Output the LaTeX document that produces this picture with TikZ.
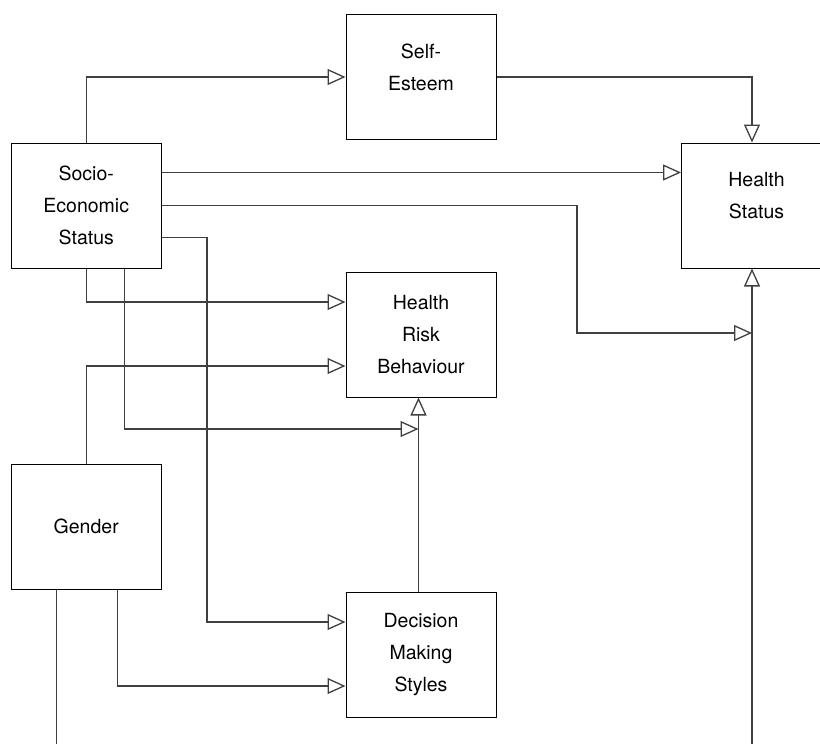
\documentclass[tikz,border=0pt]{standalone}
\usepackage{fontspec}
\setmainfont{TeX Gyre Heros}
\usetikzlibrary{arrows.meta}

\tikzset{
  box/.style={draw, line width=1pt, minimum width=150pt, minimum height=125pt,
    inner sep=0pt, align=center, font=\fontsize{19.5}{32}\selectfont},
  boxtext/.style={align=center, font=\fontsize{19.5}{32}\selectfont},
  flow/.style={draw=black!75, line width=1.3pt,
    -{Triangle[open, length=18pt, width=16pt]}}
}

\begin{document}
\begin{tikzpicture}[x=1pt, y=-1pt]

            \useasboundingbox (0,0) rectangle (820,744);
            \clip (0,0) rectangle (820,744);

            \node[box] (ses) at (86.25,205.5) {Socio-\\Economic\\Status};
            \node[box, label={[boxtext, yshift=9.5pt]center:Self-\\Esteem}] (se) at (421,77) {};
            \node[box, label={[boxtext, yshift=9.5pt]center:Health\\Status}] (hs) at (756.5,205.5) {};
            \node[box] (hrb) at (421,334.5) {Health\\Risk\\Behaviour};
            \node[box] (gen) at (86.25,526.5) {Gender};
            \node[box] (dms) at (421,654.5) {Decision\\Making\\Styles};

            \coordinate (sesA) at ([yshift=33pt]ses.east);
            \coordinate (sesC) at ([yshift=-32pt]ses.east);
            \coordinate (hsin) at (752,333);
            \coordinate (hrbin) at (418.5,429);


            \draw[flow] (ses.north) |- (se.west);
            \draw[flow] (se.east) -| ([xshift=-4.5pt]hs.north);

            \draw[flow] (sesA) -- (sesA -| hs.west);
            \draw[flow] (ses.east) -| (577,333) -- (hsin);
            \draw[flow] (sesC) -| (207,622) -- ([yshift=32.5pt]dms.west);

            \draw[flow] (ses.south) |- ([yshift=32.5pt]hrb.west);
            \draw[flow] ([xshift=38pt]ses.south) |- (hrbin);
            \draw[flow] ([xshift=-2.5pt]dms.north) -- ([xshift=-2.5pt]hrb.south);

            \draw[flow] (gen.north) |- ([yshift=-31.5pt]hrb.west);
            \draw[flow] ([xshift=31pt]gen.south) |- ([yshift=-31.5pt]dms.west);
            \draw[flow] ([xshift=-30pt]gen.south) -- ++(0,200) -| ([xshift=-4.5pt]hs.south);

\end{tikzpicture}
\end{document}
